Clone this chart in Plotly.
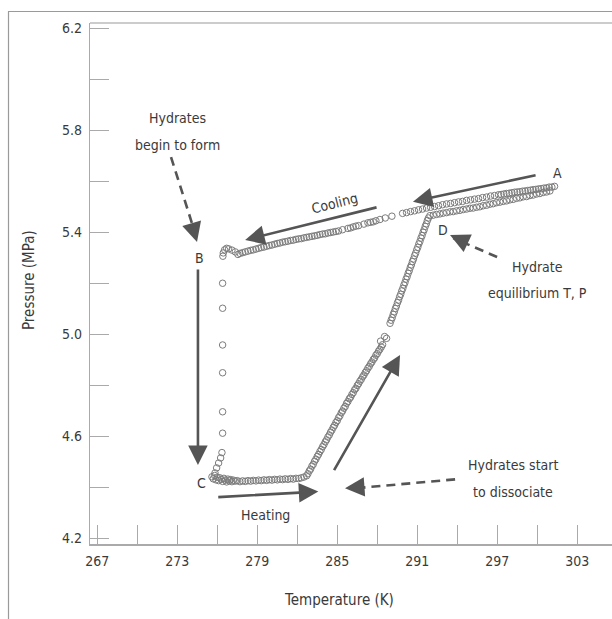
import plotly.graph_objects as go

# ---------------- data ----------------
# Cooling run A -> B
cool_T = [301.3, 301.1, 300.9, 300.7, 300.5, 300.3, 300.1, 299.9, 299.7, 299.5,
          299.3, 299.1, 298.9, 298.7, 298.5, 298.3, 298.1, 297.9, 297.7, 297.5,
          297.3, 297.1, 296.8, 296.5, 296.2, 295.9, 295.6, 295.3, 295.0, 294.7,
          294.4, 294.1, 293.8, 293.5, 293.2, 292.9, 292.6, 292.3, 292.0, 291.7,
          291.4, 291.1, 290.8, 290.5, 290.2, 289.9, 289.1, 288.6, 288.2, 287.9,
          287.7, 287.5, 287.3, 287.0, 286.6, 286.4, 286.2, 286.0, 285.8, 285.4,
          285.1, 284.9, 284.7, 284.5, 284.3, 284.1, 283.9, 283.7, 283.5, 283.3,
          283.1, 282.9, 282.7, 282.5, 282.3, 282.1, 281.9, 281.7, 281.5, 281.3,
          281.1, 280.9, 280.7, 280.5, 280.3, 280.1, 279.9, 279.7, 279.5, 279.3,
          279.1, 278.9, 278.7, 278.5, 278.3, 278.1, 277.9, 277.7, 277.55, 277.35,
          277.1, 276.85, 276.7, 276.55, 276.45, 276.42]
cool_P = [5.579, 5.576, 5.576, 5.573, 5.572, 5.570, 5.569, 5.567, 5.566, 5.564,
          5.563, 5.561, 5.560, 5.558, 5.557, 5.556, 5.554, 5.552, 5.551, 5.549,
          5.547, 5.546, 5.543, 5.541, 5.537, 5.535, 5.531, 5.529, 5.526, 5.524,
          5.520, 5.518, 5.515, 5.512, 5.510, 5.507, 5.503, 5.500, 5.497, 5.494,
          5.490, 5.487, 5.483, 5.480, 5.476, 5.473, 5.462, 5.455, 5.449, 5.444,
          5.440, 5.438, 5.436, 5.431, 5.425, 5.423, 5.420, 5.416, 5.414, 5.409,
          5.404, 5.402, 5.400, 5.398, 5.396, 5.393, 5.392, 5.390, 5.387, 5.385,
          5.383, 5.381, 5.379, 5.377, 5.374, 5.373, 5.371, 5.368, 5.367, 5.364,
          5.362, 5.360, 5.357, 5.355, 5.352, 5.349, 5.347, 5.344, 5.341, 5.339,
          5.336, 5.333, 5.330, 5.328, 5.325, 5.322, 5.319, 5.316, 5.312, 5.322,
          5.329, 5.334, 5.336, 5.330, 5.318, 5.305]

# Pressure drop B -> C (hydrate formation)
drop_T = [276.40, 276.40, 276.40, 276.40, 276.40, 276.40, 276.35, 276.25, 276.10, 275.95, 275.83]
drop_P = [5.199, 5.101, 4.957, 4.848, 4.695, 4.611, 4.535, 4.514, 4.494, 4.475, 4.455]

# Heating at nearly constant pressure from C
flat_T = [275.6, 275.7, 275.8, 275.9, 276.0, 276.1, 276.2, 276.3, 276.4, 276.5,
          276.6, 276.7, 276.8, 276.9, 277.0, 277.1, 277.2, 277.35, 277.5, 277.7,
          277.9, 278.1, 278.3, 278.5, 278.7, 278.9, 279.1, 279.3, 279.5, 279.7,
          279.9, 280.1, 280.3, 280.5, 280.7, 280.9, 281.1, 281.3, 281.5, 281.7,
          281.9, 282.1, 282.3, 282.5, 282.7]
flat_P = [4.440, 4.432, 4.445, 4.428, 4.438, 4.425, 4.436, 4.430, 4.422, 4.434,
          4.427, 4.420, 4.431, 4.424, 4.429, 4.421, 4.427, 4.423, 4.425, 4.421,
          4.424, 4.422, 4.425, 4.423, 4.426, 4.424, 4.427, 4.425, 4.428, 4.426,
          4.429, 4.427, 4.430, 4.428, 4.431, 4.429, 4.432, 4.430, 4.433, 4.431,
          4.434, 4.433, 4.436, 4.439, 4.444]

# Dissociation: pressure rise with heating
rise1_T = [282.8, 282.9, 283.0, 283.1, 283.2, 283.3, 283.4, 283.5, 283.6, 283.7,
           283.8, 283.9, 284.0, 284.1, 284.2, 284.3, 284.4, 284.5, 284.6, 284.7,
           284.8, 284.9, 285.0, 285.1, 285.2, 285.3, 285.4, 285.5, 285.6, 285.7,
           285.8, 285.9, 286.0, 286.1, 286.2, 286.3, 286.4, 286.5, 286.6, 286.7,
           286.8, 286.9, 287.0, 287.1, 287.2, 287.3, 287.4, 287.5, 287.6, 287.7,
           287.8, 287.9, 288.0, 288.1, 288.2, 288.3, 288.4, 288.25, 288.7, 288.55]
rise1_P = [4.452, 4.463, 4.470, 4.482, 4.489, 4.501, 4.509, 4.520, 4.528, 4.539,
           4.547, 4.558, 4.566, 4.577, 4.585, 4.596, 4.604, 4.615, 4.623, 4.634,
           4.642, 4.653, 4.660, 4.672, 4.679, 4.691, 4.698, 4.709, 4.716, 4.728,
           4.735, 4.746, 4.752, 4.763, 4.770, 4.781, 4.787, 4.798, 4.805, 4.815,
           4.822, 4.832, 4.839, 4.849, 4.856, 4.866, 4.873, 4.883, 4.890, 4.900,
           4.906, 4.917, 4.923, 4.933, 4.940, 4.949, 4.958, 4.972, 4.983, 4.990]

rise2_T = [288.96, 289.04, 289.12, 289.20, 289.28, 289.36, 289.44, 289.52, 289.60, 289.68,
           289.76, 289.84, 289.92, 290.00, 290.08, 290.16, 290.24, 290.32, 290.40, 290.48,
           290.56, 290.64, 290.72, 290.80, 290.88, 290.96, 291.04, 291.12, 291.20, 291.28,
           291.36, 291.44, 291.52, 291.60, 291.68, 291.76, 291.84]
rise2_P = [5.042, 5.054, 5.064, 5.077, 5.087, 5.100, 5.110, 5.123, 5.133, 5.146,
           5.156, 5.169, 5.179, 5.192, 5.202, 5.215, 5.225, 5.238, 5.248, 5.261,
           5.271, 5.284, 5.294, 5.307, 5.317, 5.330, 5.340, 5.353, 5.363, 5.376,
           5.386, 5.399, 5.409, 5.422, 5.432, 5.445, 5.455]

# Heating back along the equilibrium line D -> A
ret_T = [291.95, 292.2, 292.45, 292.7, 292.95, 293.2, 293.45, 293.7, 293.95, 294.2,
         294.45, 294.7, 294.95, 295.2, 295.45, 295.7, 295.95, 296.2, 296.45, 296.7,
         296.95, 297.2, 297.45, 297.7, 297.95, 298.2, 298.45, 298.7, 298.95, 299.2,
         299.45, 299.7, 299.95, 300.2, 300.45, 300.7, 300.95]
ret_P = [5.464, 5.466, 5.469, 5.471, 5.474, 5.476, 5.479, 5.480, 5.483, 5.485,
         5.488, 5.490, 5.493, 5.494, 5.497, 5.499, 5.503, 5.505, 5.509, 5.511,
         5.515, 5.517, 5.520, 5.522, 5.526, 5.528, 5.532, 5.534, 5.538, 5.539,
         5.543, 5.545, 5.549, 5.551, 5.555, 5.557, 5.561]

x_ticks = [267, 273, 279, 285, 291, 297, 303]
y_ticks = [4.2, 4.6, 5.0, 5.4, 5.8, 6.2]

# ---------------- figure ----------------
FONT = "DejaVu Sans Condensed, Liberation Sans Narrow, Liberation Sans, Arial, sans-serif"
TXT = "#3a3a3a"
ARR = "#555555"
MK = "#7c7c7c"

fig = go.Figure()
for T, P in [(cool_T, cool_P), (drop_T, drop_P), (flat_T, flat_P),
             (rise1_T, rise1_P), (rise2_T, rise2_P), (ret_T, ret_P)]:
    fig.add_trace(go.Scatter(
        x=T, y=P, mode="markers", showlegend=False, hoverinfo="skip",
        marker=dict(symbol="circle-open", size=6.5, color=MK, line=dict(width=1))))

W, H = 612, 619
L, R, T_, B = 90, 0, 23, 75
XR = [266.452, 305.61]
YR = [4.1765, 6.2196]

fig.update_layout(
    width=W, height=H, margin=dict(l=L, r=R, t=T_, b=B, pad=0),
    paper_bgcolor="white", plot_bgcolor="white",
    font=dict(family=FONT, size=14, color=TXT),
    xaxis=dict(range=XR, tickmode="array", tickvals=x_ticks, ticks="inside",
               ticklen=19, tickcolor="#aaaaaa", tickwidth=1.2, automargin=False,
               minor=dict(dtick=3, tick0=267, ticks="inside", ticklen=19,
                          tickcolor="#aaaaaa", tickwidth=1.2),
               showline=True, linecolor="#aaaaaa", linewidth=1.5,
               showgrid=False, zeroline=False, ticklabelstandoff=3,
               tickfont=dict(size=14, color=TXT, family=FONT)),
    yaxis=dict(range=YR, tickmode="array", tickvals=y_ticks, ticks="inside",
               ticklen=19, tickcolor="#aaaaaa", tickwidth=1.2, automargin=False,
               tickformat=".1f",
               minor=dict(dtick=0.2, tick0=4.2, ticks="inside", ticklen=19,
                          tickcolor="#aaaaaa", tickwidth=1.2),
               showline=True, linecolor="#aaaaaa", linewidth=1.2,
               showgrid=False, zeroline=False, ticklabelstandoff=4,
               tickfont=dict(size=14, color=TXT, family=FONT)),
)

# frame lines (paper coords)
pw, ph = W - L - R, H - T_ - B
def px(xp): return (xp - L) / pw
def py(yp): return (H - B - yp) / ph

shapes = [
    dict(type="line", xref="paper", yref="paper", x0=px(8), x1=px(612), y0=py(11.5), y1=py(11.5),
         line=dict(color="#9a9a9a", width=1.2)),
    dict(type="line", xref="paper", yref="paper", x0=px(8.5), x1=px(8.5), y0=py(11.5), y1=py(619),
         line=dict(color="#9a9a9a", width=1.2)),
    dict(type="line", xref="paper", yref="paper", x0=0, x1=1, y0=1, y1=1,
         line=dict(color="#bbbbbb", width=1.5)),
]

# dashed arrow shafts (data coords)
dashed = [((272.53, 5.694), (274.40, 5.385)),
          ((296.99, 5.302), (293.70, 5.376)),
          ((293.84, 4.430), (285.90, 4.393))]
for (x0, y0), (x1, y1) in dashed:
    shapes.append(dict(type="line", xref="x", yref="y", x0=x0, y0=y0, x1=x1, y1=y1,
                       line=dict(color=ARR, width=2.6, dash="9px,6px")))
fig.update_layout(shapes=shapes)

ann = []
def text(x, y, s, angle=0):
    ann.append(dict(x=x, y=y, xref="x", yref="y", text=s, showarrow=False,
                    textangle=angle, font=dict(family=FONT, size=14, color=TXT),
                    xanchor="center", yanchor="middle"))

def arrow(tail, head):
    ann.append(dict(x=head[0], y=head[1], ax=tail[0], ay=tail[1], xref="x", yref="y",
                    axref="x", ayref="y", text="", showarrow=True, arrowhead=2,
                    arrowsize=1.5, arrowwidth=2.6, arrowcolor=ARR, standoff=0,
                    startstandoff=0))

def head(tipx, tipy, dx, dy):
    ann.append(dict(x=tipx, y=tipy, xref="x", yref="y", ax=dx, ay=dy,
                    text="", showarrow=True, arrowhead=2, arrowsize=1.5,
                    arrowwidth=2.6, arrowcolor=ARR, standoff=0))

text(301.54, 5.631, "A")
text(292.93, 5.408, "D")
text(274.63, 5.298, "B")
text(274.78, 4.416, "C")
text(272.98, 5.847, "Hydrates")
text(272.98, 5.741, "begin to form")
text(299.99, 5.263, "Hydrate")
text(299.99, 5.161, "equilibrium T, P")
text(298.19, 4.486, "Hydrates start")
text(298.19, 4.382, "to dissociate")
text(279.58, 4.290, "Heating")
text(284.83, 5.514, "Cooling", angle=-14)

arrow((299.99, 5.624), (290.68, 5.519))
arrow((288.06, 5.498), (278.09, 5.369))
arrow((274.55, 5.259), (274.55, 4.486))
arrow((275.96, 4.360), (283.58, 4.382))
arrow((284.70, 4.460), (289.71, 4.918))

head(274.48, 5.361, -4, -14)
head(293.46, 5.388, 13, 6)
head(285.58, 4.395, 14, -1)

# axis titles
ann.append(dict(x=px(339), y=py(600), xref="paper", yref="paper", text="Temperature (K)",
                showarrow=False, font=dict(family=FONT, size=15, color=TXT),
                xanchor="center", yanchor="middle"))
ann.append(dict(x=px(29), y=py(280), xref="paper", yref="paper", text="Pressure (MPa)",
                showarrow=False, textangle=-90, font=dict(family=FONT, size=15, color=TXT),
                xanchor="center", yanchor="middle"))
fig.update_layout(annotations=ann)

fig.write_html("out.html", config={"displayModeBar": False},
               post_script="document.body.style.margin='0px';document.body.style.overflow='hidden';")
